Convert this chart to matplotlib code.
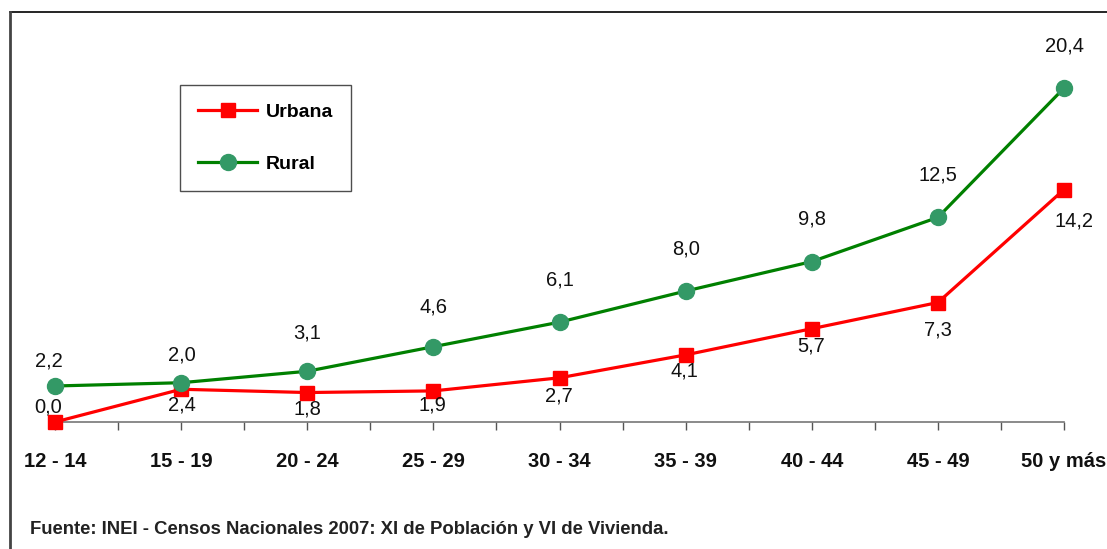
import matplotlib.pyplot as plt
from matplotlib.lines import Line2D
import numpy as np

plt.rcParams['font.family'] = ['Liberation Sans Narrow', 'Liberation Sans', 'DejaVu Sans']

grupos = ['12 - 14', '15 - 19', '20 - 24', '25 - 29', '30 - 34', '35 - 39', '40 - 44', '45 - 49', '50 y más']
urbana = [0.0, 2.0, 1.8, 1.9, 2.7, 4.1, 5.7, 7.3, 14.2]
rural = [2.2, 2.4, 3.1, 4.6, 6.1, 8.0, 9.8, 12.5, 20.4]
# etiquetas tal como aparecen en el grafico original
urbana_txt = ['0,0', '2,4', '1,8', '1,9', '2,7', '4,1', '5,7', '7,3', '14,2']
rural_txt = ['2,2', '2,0', '3,1', '4,6', '6,1', '8,0', '9,8', '12,5', '20,4']

W, H = 1107, 549
fig = plt.figure(figsize=(W / 100, H / 100), dpi=100)
ax = fig.add_axes([55 / W, 1 - 422 / H, (1064 - 55) / W, (422 - 20) / H])

x = np.arange(len(grupos))
lu, = ax.plot(x, urbana, color='#ff0000', lw=2.3, marker='s', ms=9.5,
              mfc='#ff0000', mec='#ff0000', label='Urbana', clip_on=False, zorder=3)
lr, = ax.plot(x, rural, color='#008000', lw=2.3, marker='o', ms=11.5,
              mfc='#339966', mec='#339966', label='Rural', clip_on=False, zorder=4)

# desplazamientos (px) de las etiquetas
off_u = [(-7, 15), (1, -16), (0, -16), (-1, -14), (-1, -18), (-1, -16), (-1, -17), (0, -27), (10, -31)]
off_r = [(-6, 25), (1, 28), (0, 38), (0, 40), (0, 42), (0, 42), (0, 43), (0, 42), (0, 42)]
for i in range(len(grupos)):
    ax.annotate(urbana_txt[i], (x[i], urbana[i]), xytext=(off_u[i][0] * 0.72, off_u[i][1] * 0.72),
                textcoords='offset points', ha='center', va='center', fontsize=14.5, color='#111111')
    ax.annotate(rural_txt[i], (x[i], rural[i]), xytext=(off_r[i][0] * 0.72, off_r[i][1] * 0.72),
                textcoords='offset points', ha='center', va='center', fontsize=14.5, color='#111111')

ax.set_xlim(0, len(grupos) - 1)
ax.set_ylim(0, 24.56)
ax.set_yticks([])
ax.set_xticks(np.arange(0, len(grupos) - 0.5, 0.5))
ax.set_xticklabels([])
ax.tick_params(axis='x', direction='out', length=6, width=1, color='#555555')
for s in ['top', 'right', 'left']:
    ax.spines[s].set_visible(False)
ax.spines['bottom'].set_color('#777777')
ax.spines['bottom'].set_linewidth(1.2)
ax.patch.set_alpha(0)

for i, g in enumerate(grupos):
    ax.text(x[i], -40 / 16.37, g, ha='center', va='center', fontsize=14.5,
            fontweight='bold', color='#111111')

leg = ax.legend(handles=[lu, lr], loc='upper left', bbox_to_anchor=(125 / (1064 - 55), (422 - 85) / (422 - 20)),
                prop={'weight': 'bold', 'size': 14}, frameon=True, fancybox=False,
                edgecolor='#222222', borderpad=0.95, labelspacing=1.75, handlelength=3.0,
                handletextpad=0.45, borderaxespad=0)
leg.get_frame().set_linewidth(1.0)

fig.text(30 / W, 1 - 530 / H, 'Fuente: INEI - Censos Nacionales 2007: XI de Población y VI de Vivienda.',
         ha='left', va='center', fontsize=13.3, fontweight='bold', color='#222222')

# marco exterior
fig.add_artist(Line2D([10 / W, 1], [1 - 12 / H, 1 - 12 / H], color='black', lw=1.2))
fig.add_artist(Line2D([10 / W, 10 / W], [0, 1 - 12 / H], color='#444444', lw=2))

fig.savefig('out.png', dpi=100)
